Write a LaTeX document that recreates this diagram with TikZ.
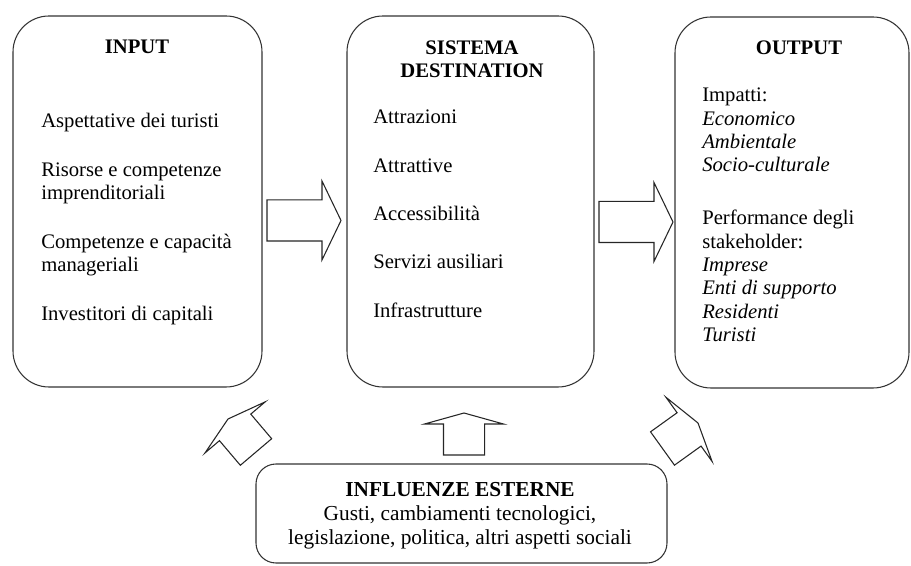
\documentclass[tikz,border=0pt]{standalone}
\usepackage{fontspec}
\setmainfont{Liberation Serif}
\usetikzlibrary{calc}
\tikzset{panel/.style={draw=black!80, line width=0.8pt, rounded corners=27pt, inner sep=0}}
\tikzset{items/.style={anchor=north west, inner sep=0, align=left, font=\fontsize{15.5}{17.5}\selectfont}}
\tikzset{heading/.style={inner sep=0, align=center, font=\fontsize{15.5}{17.25}\selectfont\bfseries}}
\tikzset{blockline/.style={draw=black!85, line width=0.8pt, fill=white}}

% block arrow from tail to tip, #3 = head length
\newcommand{\blockarrow}[3]{%
  \coordinate (#1-hb) at ($(#2)!#3!(#1)$);
  \draw[blockline] ($(#1)!15.4pt!90:(#2)$) -- ($(#1-hb)!15.4pt!90:(#2)$)
    -- ($(#1-hb)!29.6pt!90:(#2)$) -- (#2) -- ($(#1-hb)!29.6pt!-90:(#2)$)
    -- ($(#1-hb)!15.4pt!-90:(#2)$) -- ($(#1)!15.4pt!-90:(#2)$) -- cycle;
}

\begin{document}
\begin{tikzpicture}[x=0.75pt, y=-0.75pt]
  \useasboundingbox (0,0) rectangle (911,566);

  \node[panel, minimum width=186.75pt, minimum height=278.25pt] (input) at (137.5,201.5) {};
  \node[panel, minimum width=185.25pt, minimum height=278.25pt] (system) at (470.5,201.5) {};
  \node[panel, minimum width=175.5pt, minimum height=278.25pt] (output) at (792,202.5) {};
  \node[panel, rounded corners=15pt, minimum width=308.25pt, minimum height=74.25pt] (extern) at (461.5,513.5) {};

  % titles
  \node[heading, anchor=base] (inputtitle) at (137,54) {INPUT};
  \node[heading, anchor=base] (systemtitle) at (472,78) {SISTEMA\\DESTINATION};
  \node[heading, anchor=base] (outputtitle) at (799,55) {OUTPUT};

  % contents
  \node[items] (inputlist) at (41,113) {Aspettative dei turisti\\[19pt]
    Risorse e competenze\\imprenditoriali\\[19pt]
    Competenze e capacità\\manageriali\\[19pt]
    Investitori di capitali};
  \node[items] (systemlist) at (373,110) {Attrazioni\\[18.7pt]
    Attrattive\\[18.7pt]
    Accessibilità\\[18.7pt]
    Servizi ausiliari\\[18.7pt]
    Infrastrutture};
  \node[items] (outputlist) at (702,88) {Impatti:\\
    \textit{Economico}\\\textit{Ambientale}\\\textit{Socio-culturale}\\[22.25pt]
    Performance degli\\stakeholder:\\
    \textit{Imprese}\\\textit{Enti di supporto}\\\textit{Residenti}\\\textit{Turisti}};
  \node[items, anchor=north, align=center, font=\fontsize{16}{18}\selectfont] (externtext) at (460,482)
    {\textbf{INFLUENZE ESTERNE}\\Gusti, cambiamenti tecnologici,\\legislazione, politica, altri aspetti sociali};

  % arrows
  \coordinate (in-tail) at (267,220.5);
  \coordinate (in-tip) at (341,220.5);
  \coordinate (out-tail) at (599,222);
  \coordinate (out-tip) at (673,222);
  \coordinate (left-tail) at (256,452);
  \coordinate (left-tip) at (228,419);
  \coordinate (mid-tail) at (464,455);
  \coordinate (mid-tip) at (464,413);
  \coordinate (right-tail) at (662.5,448.5);
  \coordinate (right-tip) at (698,423);
  \blockarrow{in-tail}{in-tip}{14.25pt}
  \blockarrow{out-tail}{out-tip}{14.25pt}
  \blockarrow{left-tail}{left-tip}{8.25pt}
  \blockarrow{mid-tail}{mid-tip}{8.25pt}
  \blockarrow{right-tail}{right-tip}{8.25pt}
\end{tikzpicture}
\end{document}
